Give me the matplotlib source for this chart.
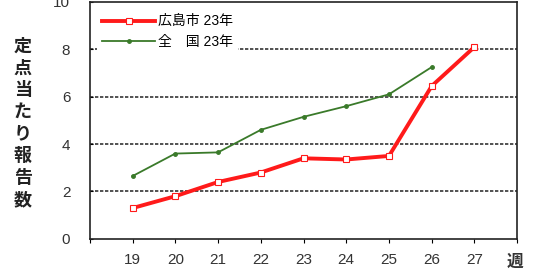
import matplotlib
matplotlib.use("Agg")
import matplotlib.pyplot as plt

plt.rcParams["font.family"] = ["Liberation Sans", "Noto Sans CJK JP", "DejaVu Sans"]

weeks = [19, 20, 21, 22, 23, 24, 25, 26, 27]
hiroshima = [1.3, 1.8, 2.4, 2.8, 3.4, 3.35, 3.5, 6.45, 8.1]
national_weeks = [19, 20, 21, 22, 23, 24, 25, 26]
national = [2.65, 3.6, 3.65, 4.6, 5.15, 5.6, 6.1, 7.25]
x_ticks = [18, 19, 20, 21, 22, 23, 24, 25, 26, 27, 28]
x_labels = ["", "19", "20", "21", "22", "23", "24", "25", "26", "27", ""]
y_ticks = [0, 2, 4, 6, 8, 10]
y_title = "定点当たり報告数"

fig = plt.figure(figsize=(5.41, 2.73), dpi=100)
ax = fig.add_axes([0.166, 0.125, 0.790, 0.868])

for y in [2, 4, 6, 8]:
    ax.axhline(y, color="#333333", lw=1.2, ls=(0, (2, 1)), zorder=1)

ax.plot(national_weeks, national, color="#3a7a2a", lw=1.3, marker="o",
        markersize=2.5, label="全　国 23年", zorder=3)
ax.plot(weeks, hiroshima, color="#ff1a1a", lw=2.8, marker="s", markersize=4,
        markerfacecolor="white", markeredgecolor="#ff1a1a", markeredgewidth=0.8,
        label="広島市 23年", zorder=4)

ax.set_xlim(18, 28)
ax.set_ylim(0, 10)
ax.set_xticks(x_ticks)
ax.set_xticklabels(x_labels, fontsize=11, color="#333333")
ax.set_yticks(y_ticks)
ax.set_yticklabels([str(v) for v in y_ticks], fontsize=11, color="#333333")
ax.tick_params(axis="x", direction="out", length=3, pad=7)
ax.tick_params(axis="y", direction="in", length=2, pad=14)
for s in ax.spines.values():
    s.set_color("#222222")
    s.set_linewidth(1.2)

fig.text(0.952, 0.01, "週", fontsize=12, fontweight="bold", color="#333333",
         ha="center", va="bottom")
for i, ch in enumerate(y_title):
    fig.text(0.042, 1 - (47 + i * 21.9) / 273, ch, fontsize=13, fontweight="bold",
             color="#222222", ha="center", va="center")

handles, labels = ax.get_legend_handles_labels()
leg = ax.legend(handles[::-1], labels[::-1], loc="upper left", bbox_to_anchor=(0.0, 1.0),
                frameon=True, fontsize=10, handlelength=3.8, borderpad=0.4,
                labelspacing=0.45, handletextpad=0.2)
leg.get_frame().set_edgecolor("none")
leg.get_frame().set_facecolor("white")
leg.get_frame().set_alpha(1.0)
leg.set_zorder(5)

fig.savefig("out.png", dpi=100)
